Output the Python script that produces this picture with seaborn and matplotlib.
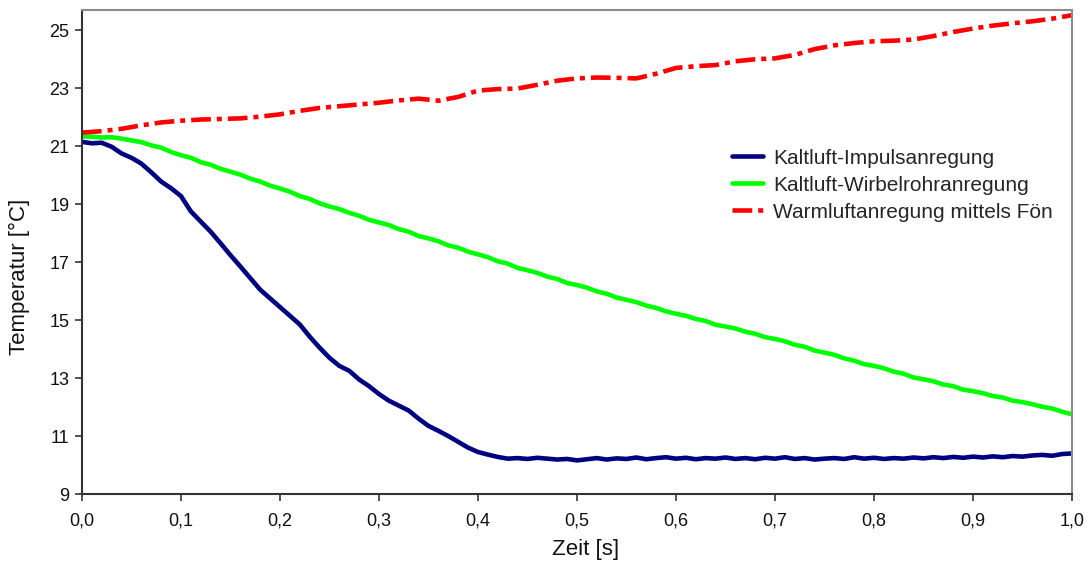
import numpy as np
import pandas as pd
import matplotlib
matplotlib.use("Agg")
import matplotlib.pyplot as plt
from matplotlib.ticker import FuncFormatter
import seaborn as sns

# Zeitachsen (s)
t_fine = [round(0.01 * i, 2) for i in range(101)]
t_warm = [round(0.02 * i, 2) for i in range(51)]

# Kaltluft-Impulsanregung (°C)
temp_impuls = [
    21.15, 21.10, 21.12, 20.98, 20.75, 20.60, 20.40, 20.10, 19.78, 19.55,
    19.28, 18.75, 18.40, 18.05, 17.65, 17.24, 16.85, 16.45, 16.05, 15.75,
    15.45, 15.15, 14.85, 14.43, 14.05, 13.70, 13.42, 13.25, 12.95, 12.72,
    12.45, 12.22, 12.05, 11.88, 11.60, 11.35, 11.18, 11.00, 10.80, 10.60,
    10.45, 10.36, 10.28, 10.22, 10.24, 10.21, 10.25, 10.22, 10.19, 10.21,
    10.16, 10.20, 10.24, 10.19, 10.23, 10.21, 10.26, 10.20, 10.24, 10.27,
    10.22, 10.25, 10.20, 10.24, 10.22, 10.26, 10.21, 10.24, 10.20, 10.25,
    10.22, 10.27, 10.21, 10.24, 10.19, 10.22, 10.24, 10.21, 10.27, 10.22,
    10.25, 10.21, 10.24, 10.22, 10.26, 10.23, 10.27, 10.24, 10.28, 10.25,
    10.29, 10.26, 10.30, 10.27, 10.31, 10.29, 10.33, 10.35, 10.32, 10.38,
    10.40,
]

# Kaltluft-Wirbelrohranregung (°C)
temp_wirbelrohr = [
    21.34, 21.33, 21.30, 21.31, 21.26, 21.20, 21.14, 21.03, 20.95, 20.80,
    20.69, 20.60, 20.45, 20.36, 20.22, 20.12, 20.02, 19.88, 19.78, 19.64,
    19.54, 19.43, 19.28, 19.18, 19.03, 18.92, 18.83, 18.70, 18.60, 18.46,
    18.37, 18.28, 18.14, 18.05, 17.90, 17.82, 17.72, 17.58, 17.50, 17.36,
    17.27, 17.17, 17.03, 16.95, 16.80, 16.72, 16.63, 16.50, 16.42, 16.28,
    16.21, 16.12, 15.99, 15.91, 15.78, 15.70, 15.62, 15.50, 15.42, 15.30,
    15.22, 15.15, 15.04, 14.97, 14.84, 14.78, 14.71, 14.60, 14.53, 14.41,
    14.35, 14.27, 14.15, 14.08, 13.95, 13.88, 13.80, 13.68, 13.60, 13.48,
    13.42, 13.34, 13.22, 13.15, 13.02, 12.96, 12.89, 12.78, 12.72, 12.60,
    12.55, 12.48, 12.38, 12.33, 12.22, 12.17, 12.10, 12.01, 11.95, 11.84,
    11.75,
]

# Warmluftanregung mittels Fön (°C)
temp_foen = [
    21.47, 21.52, 21.60, 21.72, 21.82, 21.88, 21.92, 21.94, 21.96, 22.02,
    22.10, 22.22, 22.32, 22.38, 22.44, 22.50, 22.58, 22.64, 22.57, 22.70,
    22.92, 22.97, 22.99, 23.12, 23.26, 23.34, 23.37, 23.36, 23.34, 23.50,
    23.70, 23.76, 23.80, 23.93, 24.00, 24.03, 24.15, 24.35, 24.48, 24.56,
    24.62, 24.64, 24.68, 24.80, 24.94, 25.06, 25.16, 25.24, 25.31, 25.40,
    25.52,
]

labels = ["Kaltluft-Impulsanregung", "Kaltluft-Wirbelrohranregung",
          "Warmluftanregung mittels Fön"]
x_ticks = [round(0.1 * i, 1) for i in range(11)]
y_ticks = [9, 11, 13, 15, 17, 19, 21, 23, 25]

sns.set_style("white")
plt.rcParams["font.family"] = ["Liberation Sans", "DejaVu Sans"]

fig = plt.figure(figsize=(10.9, 5.67), dpi=100)
ax = fig.add_axes([0.0752, 0.1287, 0.9083, 0.8537])

df_fine = pd.DataFrame({"t": t_fine, "impuls": temp_impuls,
                        "wirbel": temp_wirbelrohr})
df_warm = pd.DataFrame({"t": t_warm, "foen": temp_foen})

lw = 3.3
sns.lineplot(data=df_fine, x="t", y="impuls", ax=ax, color="#000080",
             linewidth=lw, label=labels[0])
sns.lineplot(data=df_fine, x="t", y="wirbel", ax=ax, color="#00FF00",
             linewidth=lw, label=labels[1])
sns.lineplot(data=df_warm, x="t", y="foen", ax=ax, color="#FF0000",
             linewidth=lw, label=labels[2], dashes=False)
ax.lines[2].set_dashes([4.3, 1.3, 1.1, 1.3])

ax.set_xlim(0, 1.0)
ax.set_ylim(9, 25.7)
ax.set_xticks(x_ticks)
ax.set_yticks(y_ticks)
ax.xaxis.set_major_formatter(FuncFormatter(lambda v, p: f"{v:.1f}".replace(".", ",")))
ax.yaxis.set_major_formatter(FuncFormatter(lambda v, p: f"{int(round(v))}"))
ax.tick_params(axis="both", which="major", direction="out", length=5,
               width=1.2, color="#333333", labelsize=13, labelcolor="#111111",
               left=True, bottom=True, pad=4)
ax.tick_params(axis="x", pad=8)

for side in ("left", "bottom"):
    ax.spines[side].set_color("#333333")
    ax.spines[side].set_linewidth(1.5)
for side in ("top", "right"):
    ax.spines[side].set_color("#8c8c8c")
    ax.spines[side].set_linewidth(1.5)

ax.set_xlabel("Zeit [s]", fontsize=16, color="#111111")
ax.set_ylabel("Temperatur [°C]", fontsize=16, color="#111111")
ax.xaxis.set_label_coords(0.509, -0.093)
ax.yaxis.set_label_coords(-0.0525, 0.448)

leg = ax.legend(loc="center left", bbox_to_anchor=(0.657, 0.638),
                frameon=False, fontsize=15, handlelength=1.45,
                handletextpad=0.5, labelspacing=0.38, borderpad=0,
                borderaxespad=0)

fig.savefig("out.png", dpi=100, facecolor="white")
